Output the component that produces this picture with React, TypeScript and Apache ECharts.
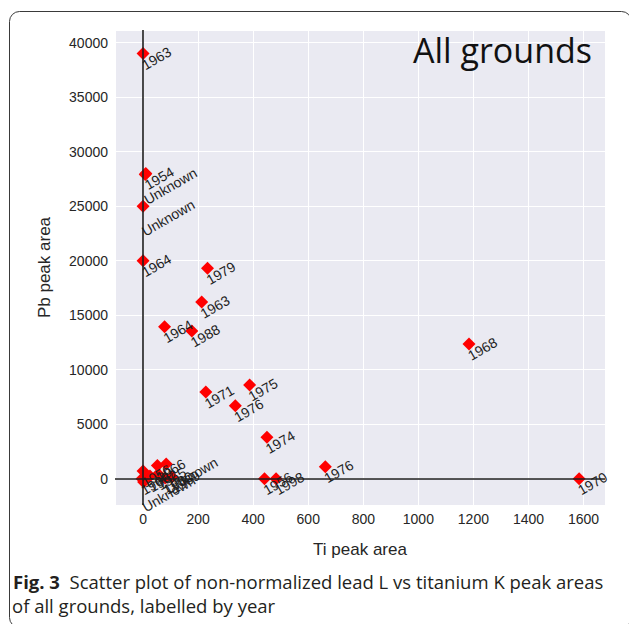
import React, { useEffect, useRef } from 'react';
import * as echarts from 'echarts';

const tiPeakArea = [0, 10, 8, 0, 0, 234, 213, 78, 177, 1184, 228, 387, 335, 450, 662, 441, 483, 1584, 52, 0, -4, 2, 25, 55, 84, 105, 80];
const pbPeakArea = [39000, 28000, 27900, 25000, 20000, 19300, 16200, 13950, 13550, 12350, 7950, 8600, 6700, 3800, 1100, 0, 0, 0, 1200, 700, 0, -300, 250, 430, 1350, 150, 60];
const yearLabels = ['1963', '1954', 'Unknown', 'Unknown', '1964', '1979', '1963', '1964', '1988', '1968', '1971', '1975', '1976', '1974', '1976', '1956', '1998', '1970', '1966', '1956', '1960', 'Unknown', '1962', '1965', 'Unknown', '1969', '1980'];
const xTickStep = 200;
const yTickStep = 5000;
const panelTitle = 'All grounds';
const captionBold = 'Fig. 3';
const captionLine1 = 'Scatter plot of non-normalized lead L vs titanium K peak areas';
const captionLine2 = 'of all grounds, labelled by year';

const LABEL_FONT = '14px "Liberation Sans", Arial, sans-serif';

function measure(text: string): number {
  const c = document.createElement('canvas').getContext('2d');
  if (!c) return text.length * 7.5;
  c.font = LABEL_FONT;
  return c.measureText(text).width;
}

export default function App() {
  const ref = useRef<HTMLDivElement>(null);
  useEffect(() => {
    if (!ref.current) return;
    const chart = echarts.init(ref.current, null, { renderer: 'svg' });
    const pts = tiPeakArea.map((x, i) => [x, pbPeakArea[i]]);
    const widths = yearLabels.map(measure);
    const ang = Math.PI / 6;
    const fmt = (step: number) => (v: number) => (Math.abs(v % step) < 1e-6 ? String(v) : '');
    const axisFont = '"Liberation Sans", Arial, sans-serif';
    chart.setOption({
      animation: false,
      grid: { left: 115, right: 24, top: 30, bottom: 119, show: true, backgroundColor: '#eaeaf2', borderWidth: 0 },
      xAxis: {
        type: 'value', min: -102, max: 1678, minInterval: xTickStep, maxInterval: xTickStep,
        axisLine: { show: false }, axisTick: { show: false },
        splitLine: { show: true, lineStyle: { color: '#ffffff', width: 1 } },
        axisLabel: { formatter: fmt(xTickStep), color: '#262626', fontSize: 14, margin: 7, fontFamily: axisFont },
        name: 'Ti peak area', nameLocation: 'middle', nameGap: 36,
        nameTextStyle: { fontSize: 17, color: '#262626', fontFamily: axisFont },
      },
      yAxis: {
        type: 'value', min: -2413, max: 41165, minInterval: yTickStep, maxInterval: yTickStep,
        axisLine: { show: false }, axisTick: { show: false },
        splitLine: { show: true, lineStyle: { color: '#ffffff', width: 1 } },
        axisLabel: { formatter: fmt(yTickStep), color: '#262626', fontSize: 14, margin: 7, fontFamily: axisFont },
        name: 'Pb peak area', nameLocation: 'middle', nameGap: 62,
        nameTextStyle: { fontSize: 17, color: '#262626', fontFamily: axisFont },
      },
      series: [
        {
          type: 'scatter', data: [], z: 1, silent: true,
          markLine: {
            silent: true, symbol: 'none', animation: false,
            label: { show: false },
            lineStyle: { color: '#1e1e1e', width: 1.6, type: 'solid' },
            data: [{ xAxis: 0 }, { yAxis: 0 }],
          },
        },
        {
          type: 'scatter', data: pts, z: 3, symbol: 'diamond', symbolSize: 13,
          itemStyle: { color: '#ff0000', opacity: 1 },
        },
        {
          type: 'custom', data: pts, z: 4, silent: true, clip: false,
          encode: { x: 0, y: 1 },
          renderItem: (params: any, api: any) => {
            const p = api.coord([api.value(0), api.value(1)]);
            const i = params.dataIndex;
            const w = widths[i];
            const bx = p[0] + 2 + 1.4;
            const by = p[1] + 0.5 * w + 0.5 + 2.5;
            return {
              type: 'text', x: bx, y: by, rotation: ang,
              style: { text: yearLabels[i], font: LABEL_FONT, fill: '#1f1f1f', align: 'left', verticalAlign: 'bottom' },
            };
          },
        },
      ],
      graphic: [
        { type: 'rect', shape: { x: 9.5, y: 11.5, width: 622, height: 616, r: 10 }, style: { fill: 'none', stroke: '#3a3a3a', lineWidth: 1 }, silent: true },
        { type: 'text', x: 592, y: 67, style: { text: panelTitle, font: '34px "Open Sans", sans-serif', fill: '#111', align: 'right', verticalAlign: 'bottom' }, z: 10 },
        {
          type: 'text', x: 13, y: 591,
          style: {
            text: '{b|' + captionBold + '}  ' + captionLine1,
            font: '18.5px "Open Sans", sans-serif', fill: '#231f20', align: 'left', verticalAlign: 'bottom',
            rich: { b: { font: 'bold 18.5px "Open Sans", sans-serif', fill: '#231f20' } },
          },
        },
        {
          type: 'text', x: 12, y: 615,
          style: { text: captionLine2, font: '18.5px "Open Sans", sans-serif', fill: '#231f20', align: 'left', verticalAlign: 'bottom' },
        },
      ],
    });
    return () => chart.dispose();
  }, []);
  return <div ref={ref} style={{ position: 'absolute', left: 0, top: 0, width: 629, height: 624 }} />;
}
